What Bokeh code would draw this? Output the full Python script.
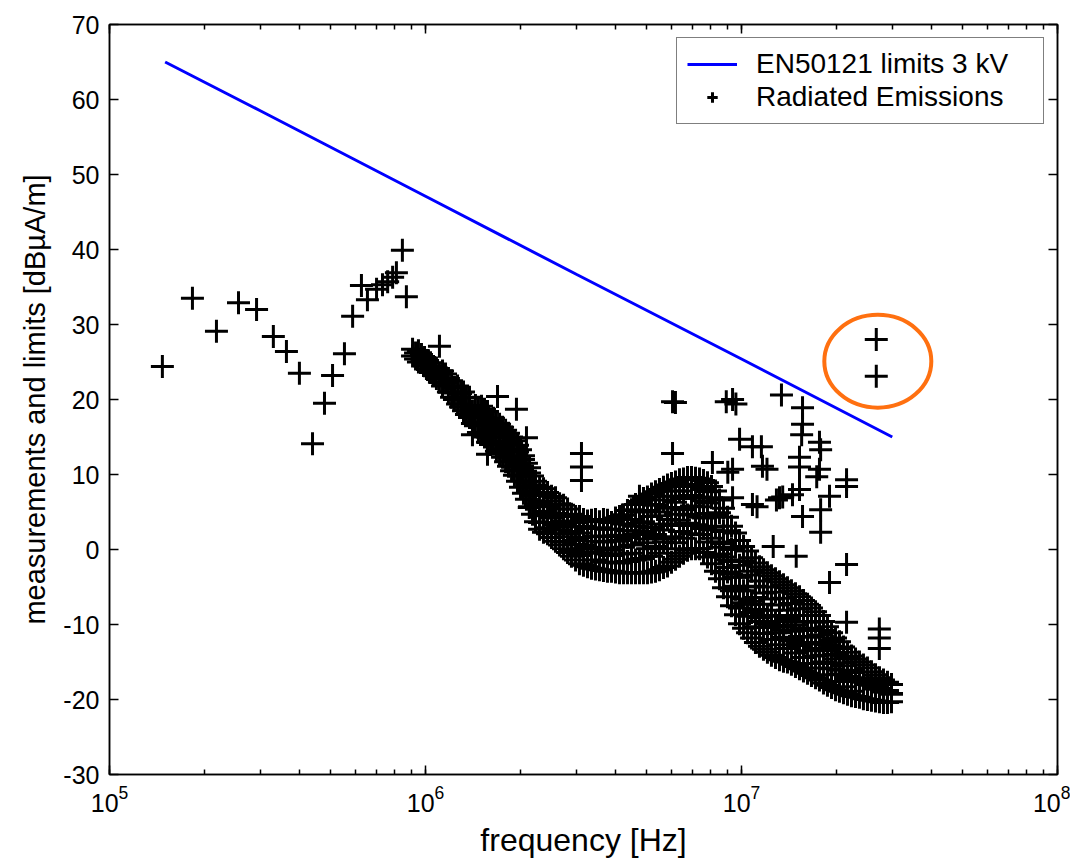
from bokeh.plotting import figure
from bokeh.models import LogAxis, LinearAxis, FixedTicker, LogTicker, Legend, LegendItem, CustomJSTickFormatter
from bokeh.embed import file_html
from bokeh.resources import INLINE

# ---------------- data ----------------
y_ticks = [-30, -20, -10, 0, 10, 20, 30, 40, 50, 60, 70]
x_limits = (1e5, 1e8)
y_limits = (-30, 70)

# EN50121 limit line (3 kV) : frequency in MHz, level in dBuA/m
limit_freq_mhz = [0.15, 0.3, 1.0, 3.0, 10.0, 30.0]
limit_level_db = [65.0, 58.5, 47.1, 36.7, 25.4, 15.0]

# sparse low-frequency measurements
low_freq_mhz = [0.147, 0.183, 0.218, 0.256, 0.292, 0.330, 0.363, 0.399, 0.439, 0.479, 0.508,
                0.554, 0.588, 0.627, 0.655, 0.700, 0.731, 0.759, 0.787, 0.809, 0.845, 0.870]
low_level_db = [24.4, 33.5, 29.1, 32.9, 32.0, 28.4, 26.4, 23.5, 14.1, 19.5, 23.2,
                26.1, 31.1, 35.2, 33.3, 34.7, 35.3, 35.7, 36.3, 36.9, 39.9, 33.7]

# dense sweep: one frequency per column, several readings per column
band_freq_mhz = [0.910, 0.930, 0.950, 0.971, 0.993, 1.015, 1.037, 1.060, 1.083, 1.107, 1.132, 1.157,
                 1.182, 1.209, 1.235, 1.263, 1.291, 1.319, 1.348, 1.378, 1.408, 1.439, 1.471, 1.504,
                 1.537, 1.571, 1.606, 1.641, 1.677, 1.715, 1.753, 1.792, 1.831, 1.872, 1.912, 1.955,
                 1.998, 2.042, 2.087, 2.134, 2.181, 2.229,
                 2.296, 2.363, 2.433, 2.505, 2.579, 2.656, 2.734, 2.815, 2.897, 2.984, 3.071, 3.162,
                 3.256, 3.352, 3.451, 3.553, 3.658, 3.766, 3.878, 3.993, 4.111, 4.233, 4.357, 4.486,
                 4.619, 4.755, 4.896, 5.040, 5.190, 5.343, 5.501, 5.665, 5.832, 6.004, 6.182, 6.365,
                 6.553, 6.747, 6.947, 7.152, 7.364, 7.581, 7.805, 8.036, 8.273, 8.518, 8.770, 9.030,
                 9.297, 9.572, 9.855, 10.15, 10.45, 10.76, 11.07, 11.40, 11.74, 12.08, 12.44, 12.81,
                 13.19, 13.58, 13.98, 14.39, 14.82, 15.26, 15.71, 16.18, 16.65, 17.15, 17.65, 18.18,
                 18.71, 19.27, 19.84, 20.42, 21.03, 21.65, 22.29, 22.95, 23.62, 24.32, 25.04, 25.78,
                 26.55, 27.33, 28.14, 28.97, 29.83]
band_levels_db = [
    [26.7, 25.8], [26.2, 25.4], [26.5, 25.0], [25.4, 26.0], [24.5, 25.6], [25.2, 24.0],
    [23.6, 24.9], [24.4, 23.2], [22.8, 24.2], [23.5, 22.3], [23.8, 21.8], [22.2, 23.4],
    [21.0, 22.8], [22.5, 20.3], [20.0, 21.6], [21.8, 19.4], [19.0, 20.8], [21.0, 18.5],
    [18.0, 20.2], [20.3, 17.6], [18.4, 16.8], [19.2, 16.5],
    [17.0, 18.9, 15.6], [15.6, 18.0, 19.1], [17.6, 15.0, 18.7], [15.0, 16.8, 18.4, 14.3],
    [17.2, 14.0, 16.0], [14.2, 16.2, 17.5], [16.8, 13.1, 15.0], [12.8, 15.6, 16.7, 14.2],
    [16.3, 12.3, 14.4], [11.7, 15.0, 13.4, 15.9], [15.5, 11.1, 13.2], [10.5, 14.2, 12.4, 15.0],
    [14.5, 9.9, 12.0], [9.1, 13.0, 11.2, 13.9], [13.3, 8.3, 10.6], [7.5, 12.0, 9.8, 12.5],
    [11.5, 6.7, 9.0], [5.7, 10.2, 7.8, 10.9], [9.8, 4.7, 7.2], [3.7, 8.6, 6.0, 9.1],
    [8.3, 6.4, 5.9, 3.6, 2.7], [2.3, 4.5, 5.1, 7.2, 8.1], [7.6, 5.7, 4.9, 2.9, 2.1],
    [1.6, 3.6, 4.2, 6.5, 7.1], [6.9, 4.8, 3.3, 2.6, 1.1], [0.6, 2.6, 3.2, 5.4, 6.1],
    [5.9, 3.8, 3.3, 1.0, 0.1], [-0.4, 1.7, 2.1, 4.4, 5.4], [4.7, 3.0, 2.4, 0.0, -0.9],
    [-1.4, 0.7, 1.2, 3.6, 4.4], [4.4, 2.2, 1.6, -0.8, -1.9], [-2.1, 0.1, 0.6, 3.1, 4.0],
    [3.8, 2.8, 0.3, -0.3, -2.3], [-2.5, -0.4, 0.2, 2.8, 3.9], [4.0, 1.8, 1.1, -1.4, -2.6],
    [-2.7, -0.5, 0.2, 2.9, 3.7], [4.0, 1.7, 1.0, -1.7, -2.8], [-2.9, -0.6, 0.0, 2.7, 3.9],
    [3.6, 2.7, -0.1, -0.8, -2.9], [-3.0, -1.7, 1.1, 1.8, 4.2], [4.4, 1.9, 1.2, -1.8, -3.1],
    [-3.1, -0.6, 0.3, 3.4, 4.6], [5.2, 2.5, 1.6, -1.6, -3.1], [-3.1, -0.5, 0.6, 4.0, 5.3],
    [6.0, 3.1, 2.0, -1.4, -3.1, 2.5], [-3.1, -1.3, 2.1, 3.5, 6.4, 5.0],
    [6.8, 3.7, 2.4, -1.2, -3.1, 0.9], [-3.1, 0.1, 1.4, 5.2, 7.0, 3.0],
    [7.4, 4.4, 2.9, -0.9, -3.0, 6.0], [-2.9, 0.4, 2.0, 5.9, 7.7, 1.6],
    [8.0, 5.0, 3.4, -0.5, -2.7, 4.5], [-2.4, 1.0, 2.6, 6.6, 8.3, 1.4],
    [8.6, 5.6, 4.0, 0.1, -2.2, 7.1], [-1.7, 1.7, 3.2, 7.1, 8.8, 5.5],
    [9.0, 6.3, 4.7, 0.9, -1.3, 7.8], [-0.9, 2.4, 3.9, 7.8, 9.3, 3.4],
    [9.4, 6.8, 5.3, 1.5, -0.5, 5.6], [-0.1, 3.2, 4.6, 8.4, 9.6, 3.5],
    [9.6, 7.2, 5.8, 2.1, 0.1, 8.7], [0.1, 3.3, 4.7, 8.4, 9.5, 6.9],
    [9.4, 7.0, 5.7, 2.0, 0.1, 4.3], [-0.4, 2.8, 4.2, 8.0, 9.2, 6.5],
    [8.9, 6.2, 4.8, 1.0, -1.0, 7.7], [-1.9, 1.5, 3.0, 6.9, 8.4, 2.6],
    [7.8, 4.7, 3.1, -0.8, -2.9, 4.4], [-3.9, -0.6, 1.0, 4.9, 6.6, 0.3],
    [5.5, 2.4, 0.8, -3.1, -5.1, -1.0], [-6.3, -3.0, -1.4, 2.5, 4.3, -2.4],
    [3.1, 0.0, -1.6, -5.5, -7.5, -3.3], [-8.7, -5.3, -3.7, 0.3, 2.2, -4.9],
    [1.2, -2.1, -3.7, -7.8, -9.9, -5.5], [-10.5, -7.1, -5.5, -1.5, 0.4, -6.6],
    [-0.2, -3.4, -5.0, -8.9, -11.1, -7.3], [-11.8, -8.4, -6.9, -2.9, -1.1, -7.3],
    [-1.8, -4.9, -6.4, -10.3, -12.4, -8.0], [-12.9, -9.6, -8.1, -4.2, -2.3, -9.1],
    [-2.7, -5.8, -7.3, -11.2, -13.3, -8.8], [-13.7, -10.4, -8.9, -5.0, -3.1, -9.9],
    [-3.5, -6.6, -8.1, -12.0, -14.1, -10.3], [-14.4, -11.1, -9.6, -5.7, -3.9, -10.1],
    [-4.3, -7.4, -8.8, -12.7, -14.7, -11.1], [-14.9, -11.7, -10.3, -6.5, -4.7, -10.7],
    [-5.1, -8.1, -9.4, -13.2, -15.0, -9.1], [-15.3, -12.2, -10.9, -7.2, -5.5, -11.9],
    [-5.9, -8.8, -10.1, -13.8, -15.6, -9.7], [-15.9, -12.8, -11.6, -7.9, -6.3, -12.5],
    [-6.8, -9.6, -10.8, -14.4, -16.2, -10.5], [-16.5, -13.5, -12.4, -8.8, -7.3, -12.6],
    [-7.8, -10.6, -11.7, -15.2, -16.8], [-17.1, -14.2, -13.2, -9.7, -8.3],
    [-8.8, -11.4, -12.4, -15.8, -17.4], [-17.8, -15.0, -14.1, -10.8, -9.6],
    [-10.3, -12.7, -13.5, -16.7, -18.1], [-18.4, -15.9, -15.2, -12.1, -11.1],
    [-11.8, -14.0, -14.6, -17.6, -18.7], [-18.9, -16.6, -16.1, -13.2, -12.3],
    [-13.0, -15.1, -15.5, -18.3, -19.1], [-19.3, -17.2, -16.9, -14.3, -13.7],
    [-14.2, -16.1, -16.4, -18.9, -19.5], [-19.6, -17.6, -17.4, -15.0, -14.6],
    [-15.0, -17.1, -17.5, -19.7], [-19.9, -17.7, -17.3, -15.4], [-15.8, -17.7, -18.0, -20.0],
    [-20.1, -18.1, -18.0, -16.3], [-16.7, -18.4, -18.6, -20.2], [-20.3, -18.5, -18.6, -17.1],
    [-17.4, -18.9, -19.0, -20.4], [-20.4, -18.8, -19.0, -17.7], [-18.0, -19.3, -19.2, -20.3],
]

# isolated spurious emissions
spur_freq_mhz = [1.107, 1.408, 1.571, 1.69, 1.94, 2.087, 2.13, 3.116, 3.116, 3.116,
                 6.05, 6.18, 6.05, 4.755, 4.20, 8.95, 9.37, 9.6, 9.86, 8.09,
                 13.38, 15.6, 15.6, 15.5, 17.65, 17.8, 15.26, 15.26, 17.3, 21.5,
                 21.5, 18.99, 17.8, 15.6, 17.8, 21.5, 10.83, 11.56, 12.04, 11.65,
                 9.37, 13.19, 12.9, 13.5, 14.5, 10.83, 9.37, 14.9, 12.6, 18.99,
                 21.5, 19.4, 27.3, 27.3, 27.3, 26.7, 26.7, 17.65, 15.26, 11.2, 9.05]
spur_level_db = [27.1, 15.3, 12.7, 20.4, 18.7, 14.9, 5.6, 12.8, 11.0, 9.2,
                 19.7, 19.6, 12.8, 7.1, 4.6, 19.7, 20.0, 19.4, 14.7, 11.6,
                 20.6, 18.9, 16.7, 15.3, 14.3, 13.3, 12.3, 11.0, 9.7, 9.3,
                 8.4, 7.1, 5.3, 4.4, 2.3, -2.0, 13.7, 13.7, 10.7, 11.1,
                 10.7, 6.9, 6.6, 7.0, 7.3, 6.0, 6.9, -0.9, 0.4, -4.4,
                 -9.7, -12.9, -10.6, -11.8, -13.2, 28.0, 23.1, 10.7, 8.0, 5.7, 10.3]

# highlighted region (annotation ring)
ring_freq_mhz = 27.0
ring_level_db = 25.1

limit_label = "EN50121 limits 3 kV"
emis_label = "Radiated Emissions"
x_label = "frequency [Hz]"
y_label = "measurements and limits [dBµA/m]"

# ---------------- assemble ----------------
emis_f = [f * 1e6 for f in low_freq_mhz]
emis_db = list(low_level_db)
for f, levels in zip(band_freq_mhz, band_levels_db):
    for v in levels:
        emis_f.append(f * 1e6)
        emis_db.append(v)
emis_f += [f * 1e6 for f in spur_freq_mhz]
emis_db += list(spur_level_db)

FONT = "Liberation Sans"

p = figure(width=1070, height=861, x_axis_type="log", x_range=x_limits, y_range=y_limits,
           output_backend="svg", toolbar_location=None,
           min_border_left=109, min_border_right=13, min_border_top=24, min_border_bottom=87)
p.xgrid.visible = False
p.ygrid.visible = False
p.outline_line_color = "black"
p.outline_line_width = 1.5
p.background_fill_color = "white"
p.border_fill_color = "white"

line_r = p.line([f * 1e6 for f in limit_freq_mhz], limit_level_db, line_color="#0000ff", line_width=3)
scat_r = p.scatter(emis_f, emis_db, marker="cross", size=23, line_color="black", line_width=3)
p.ellipse(x=[ring_freq_mhz * 1e6], y=[ring_level_db], width=107, height=93,
          width_units="screen", height_units="screen",
          fill_color=None, line_color="#ff7010", line_width=4)

def style_axis(ax):
    ax.major_tick_in = 9
    ax.major_tick_out = 0
    ax.minor_tick_in = 5
    ax.minor_tick_out = 0
    ax.axis_line_color = "black"
    ax.axis_line_width = 1.5
    ax.major_tick_line_width = 1.5
    ax.minor_tick_line_width = 1.5
    ax.major_label_text_font = FONT
    ax.major_label_text_color = "black"
    ax.major_label_text_font_size = "25px"

xa = p.xaxis[0]
xa.ticker = LogTicker(num_minor_ticks=10)
style_axis(xa)
xa.major_label_standoff = 10
xa.axis_label = x_label
xa.axis_label_text_font = FONT
xa.axis_label_text_font_size = "32px"
xa.axis_label_text_font_style = "normal"
xa.axis_label_text_color = "black"
xa.axis_label_standoff = 7

ya = p.yaxis[0]
ya.ticker = FixedTicker(ticks=y_ticks, minor_ticks=[])
ya.formatter = CustomJSTickFormatter(code="return tick.toString();")
style_axis(ya)
ya.major_label_standoff = 10
ya.axis_label = y_label
ya.axis_label_text_font = FONT
ya.axis_label_text_font_size = "29px"
ya.axis_label_text_font_style = "normal"
ya.axis_label_text_color = "black"
ya.axis_label_standoff = 9

blank = CustomJSTickFormatter(code="return ' ';")
top = LogAxis(ticker=LogTicker(num_minor_ticks=10), formatter=blank)
style_axis(top)
top.major_label_standoff = 0
top.major_label_text_font_size = "1px"
p.add_layout(top, "above")
right = LinearAxis(ticker=FixedTicker(ticks=y_ticks, minor_ticks=[]), formatter=blank)
style_axis(right)
right.major_label_standoff = 0
right.major_label_text_font_size = "1px"
p.add_layout(right, "right")

legend = Legend(items=[LegendItem(label=limit_label, renderers=[line_r]),
                       LegendItem(label=emis_label, renderers=[scat_r])],
                location="top_right")
legend.border_line_color = "black"
legend.border_line_width = 1.2
legend.background_fill_color = "white"
legend.background_fill_alpha = 1.0
legend.label_text_font = FONT
legend.label_text_font_size = "28px"
legend.label_text_color = "black"
legend.glyph_width = 50
legend.glyph_height = 26
legend.label_height = 26
legend.label_width = 277
legend.spacing = 1
legend.padding = 10
legend.margin = 13
legend.label_standoff = 19
p.add_layout(legend)

open("out.html", "w").write(file_html(p, INLINE))
